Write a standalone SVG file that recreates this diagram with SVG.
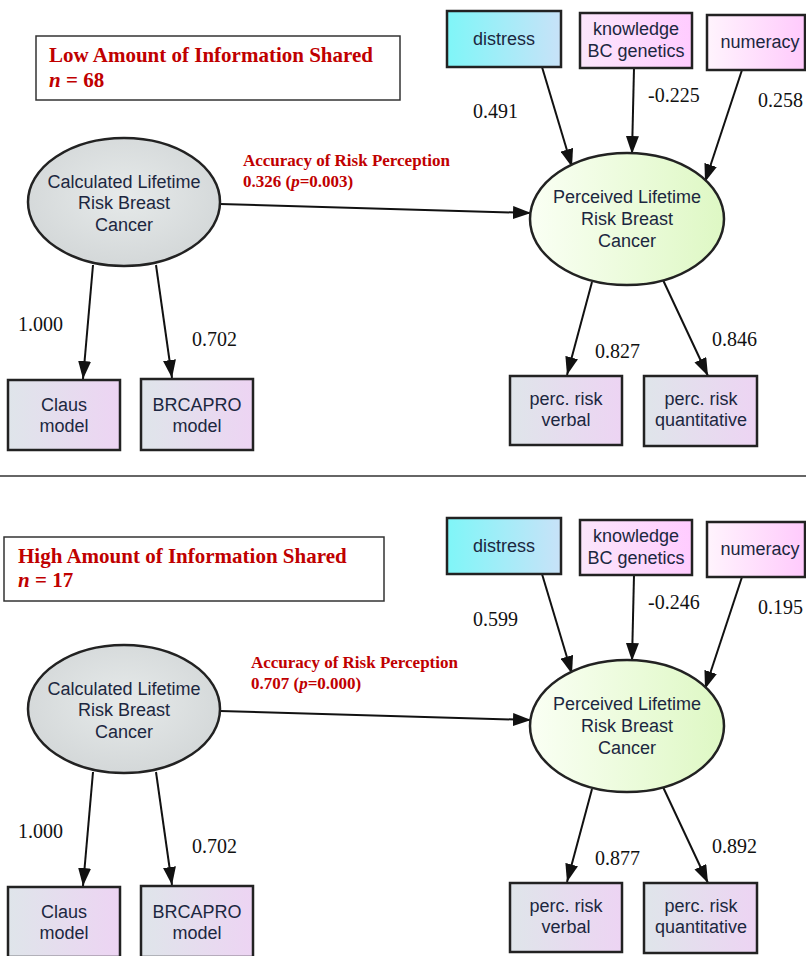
<svg xmlns="http://www.w3.org/2000/svg" width="806" height="956" viewBox="0 0 806 956">
<style>
.bg{fill:#ffffff}
.node{stroke:#222;stroke-width:2.5}
.ntext{font-family:"Liberation Sans",Arial,sans-serif;font-size:18px;fill:#1c2740;text-anchor:middle}
.coef{font-family:"Liberation Serif","Times New Roman",serif;font-size:20px;fill:#111}
.red{font-family:"Liberation Serif","Times New Roman",serif;font-weight:bold;fill:#c00000}
.title{font-size:21px}
.acc{font-size:17px}
.titlebox{fill:#fff;stroke:#333;stroke-width:1.5}
.edge{stroke:#111;stroke-width:2;fill:none;marker-end:url(#arr)}
.sep{stroke:#333;stroke-width:1.5}
</style>
<defs>
<marker id="arr" markerUnits="userSpaceOnUse" markerWidth="19" markerHeight="13" refX="18" refY="6.5" orient="auto">
<path d="M0,0 L18,6.5 L0,13 Z" fill="#111"/>
</marker>
<linearGradient id="gDis" x1="0" y1="0" x2="1" y2="0"><stop offset="0" stop-color="#7ff6f8"/><stop offset="1" stop-color="#c8e2f8"/></linearGradient>
<linearGradient id="gKno" x1="0" y1="0" x2="1" y2="0"><stop offset="0" stop-color="#fbe6fb"/><stop offset="1" stop-color="#ffccff"/></linearGradient>
<linearGradient id="gNum" x1="0" y1="0" x2="1" y2="0"><stop offset="0" stop-color="#fff4fd"/><stop offset="1" stop-color="#ffcafc"/></linearGradient>
<linearGradient id="gInd" x1="0" y1="0" x2="1" y2="0"><stop offset="0" stop-color="#dfe5ea"/><stop offset="1" stop-color="#edd4f3"/></linearGradient>
<radialGradient id="gCalc" cx="0.5" cy="0.45" r="0.6"><stop offset="0" stop-color="#e6eaea"/><stop offset="1" stop-color="#d2d6d7"/></radialGradient>
<linearGradient id="gPerc" x1="0" y1="0" x2="1" y2="0"><stop offset="0" stop-color="#fafff4"/><stop offset="1" stop-color="#def8c4"/></linearGradient>
</defs>
<rect class="bg" x="0" y="0" width="806" height="956"/>

<!-- ===== Top panel ===== -->
<g id="title-low">
<rect class="titlebox" x="36" y="36" width="364" height="64"/>
<text class="red title" x="49" y="62">Low Amount of Information Shared</text>
<text class="red title" x="49" y="87"><tspan font-style="italic">n</tspan> = 68</text>
</g>

<g id="connectors-top">
<line class="edge" x1="220" y1="204" x2="531" y2="213"/>
<line class="edge" x1="542" y1="67" x2="572" y2="167"/>
<line class="edge" x1="634" y1="68" x2="632" y2="154"/>
<line class="edge" x1="742" y1="70" x2="705" y2="182"/>
<line class="edge" x1="93" y1="265" x2="83" y2="379"/>
<line class="edge" x1="156" y1="265" x2="172" y2="378"/>
<line class="edge" x1="592" y1="282" x2="567" y2="375"/>
<line class="edge" x1="663" y1="280" x2="708" y2="376"/>
<text class="red acc" x="243" y="166">Accuracy of Risk Perception</text>
<text class="red acc" x="243" y="187">0.326 (<tspan font-style="italic">p</tspan>=0.003)</text>
<text class="coef" x="473" y="118">0.491</text>
<text class="coef" x="648" y="102">-0.225</text>
<text class="coef" x="758" y="107">0.258</text>
<text class="coef" x="18" y="331">1.000</text>
<text class="coef" x="192" y="346">0.702</text>
<text class="coef" x="595" y="358">0.827</text>
<text class="coef" x="712" y="346">0.846</text>
</g>

<g id="calc-top">
<ellipse class="node" cx="124" cy="202" rx="96" ry="64" fill="url(#gCalc)"/>
<text class="ntext" x="124" y="188">Calculated Lifetime</text>
<text class="ntext" x="124" y="209">Risk Breast</text>
<text class="ntext" x="124" y="231">Cancer</text>
</g>
<g id="perc-top">
<ellipse class="node" cx="627" cy="219" rx="97" ry="66" fill="url(#gPerc)"/>
<text class="ntext" x="627" y="203">Perceived Lifetime</text>
<text class="ntext" x="627" y="225">Risk Breast</text>
<text class="ntext" x="627" y="247">Cancer</text>
</g>
<g id="distress-top">
<rect class="node" x="447" y="11" width="114" height="56" fill="url(#gDis)"/>
<text class="ntext" x="504" y="45">distress</text>
</g>
<g id="knowledge-top">
<rect class="node" x="580" y="13" width="112" height="55" fill="url(#gKno)"/>
<text class="ntext" x="636" y="35">knowledge</text>
<text class="ntext" x="636" y="57">BC genetics</text>
</g>
<g id="numeracy-top">
<rect class="node" x="707" y="15" width="98" height="55" fill="url(#gNum)"/>
<text class="ntext" x="760" y="48">numeracy</text>
</g>
<g id="claus-top">
<rect class="node" x="8" y="380" width="112" height="70" fill="url(#gInd)"/>
<text class="ntext" x="64" y="411">Claus</text>
<text class="ntext" x="64" y="432">model</text>
</g>
<g id="brcapro-top">
<rect class="node" x="141" y="379" width="112" height="71" fill="url(#gInd)"/>
<text class="ntext" x="197" y="411">BRCAPRO</text>
<text class="ntext" x="197" y="432">model</text>
</g>
<g id="verbal-top">
<rect class="node" x="510" y="376" width="112" height="69" fill="url(#gInd)"/>
<text class="ntext" x="566" y="405">perc. risk</text>
<text class="ntext" x="566" y="426">verbal</text>
</g>
<g id="quant-top">
<rect class="node" x="644" y="376" width="113" height="70" fill="url(#gInd)"/>
<text class="ntext" x="701" y="405">perc. risk</text>
<text class="ntext" x="701" y="426">quantitative</text>
</g>

<line class="sep" x1="0" y1="476" x2="806" y2="476"/>

<!-- ===== Bottom panel ===== -->
<g id="title-high">
<rect class="titlebox" x="4" y="537" width="380" height="64"/>
<text class="red title" x="18" y="563">High Amount of Information Shared</text>
<text class="red title" x="18" y="587"><tspan font-style="italic">n</tspan> = 17</text>
</g>

<g id="connectors-bottom">
<line class="edge" x1="220" y1="711" x2="531" y2="720"/>
<line class="edge" x1="542" y1="574" x2="572" y2="674"/>
<line class="edge" x1="634" y1="575" x2="632" y2="661"/>
<line class="edge" x1="742" y1="577" x2="705" y2="689"/>
<line class="edge" x1="93" y1="772" x2="83" y2="886"/>
<line class="edge" x1="156" y1="772" x2="172" y2="885"/>
<line class="edge" x1="592" y1="789" x2="567" y2="882"/>
<line class="edge" x1="663" y1="787" x2="708" y2="883"/>
<text class="red acc" x="251" y="668">Accuracy of Risk Perception</text>
<text class="red acc" x="251" y="689">0.707 (<tspan font-style="italic">p</tspan>=0.000)</text>
<text class="coef" x="473" y="626">0.599</text>
<text class="coef" x="648" y="609">-0.246</text>
<text class="coef" x="758" y="614">0.195</text>
<text class="coef" x="18" y="838">1.000</text>
<text class="coef" x="192" y="853">0.702</text>
<text class="coef" x="595" y="865">0.877</text>
<text class="coef" x="712" y="853">0.892</text>
</g>

<g id="calc-bottom">
<ellipse class="node" cx="124" cy="709" rx="96" ry="64" fill="url(#gCalc)"/>
<text class="ntext" x="124" y="695">Calculated Lifetime</text>
<text class="ntext" x="124" y="716">Risk Breast</text>
<text class="ntext" x="124" y="738">Cancer</text>
</g>
<g id="perc-bottom">
<ellipse class="node" cx="627" cy="726" rx="97" ry="66" fill="url(#gPerc)"/>
<text class="ntext" x="627" y="710">Perceived Lifetime</text>
<text class="ntext" x="627" y="732">Risk Breast</text>
<text class="ntext" x="627" y="754">Cancer</text>
</g>
<g id="distress-bottom">
<rect class="node" x="447" y="518" width="114" height="56" fill="url(#gDis)"/>
<text class="ntext" x="504" y="552">distress</text>
</g>
<g id="knowledge-bottom">
<rect class="node" x="580" y="520" width="112" height="55" fill="url(#gKno)"/>
<text class="ntext" x="636" y="542">knowledge</text>
<text class="ntext" x="636" y="564">BC genetics</text>
</g>
<g id="numeracy-bottom">
<rect class="node" x="707" y="522" width="98" height="55" fill="url(#gNum)"/>
<text class="ntext" x="760" y="555">numeracy</text>
</g>
<g id="claus-bottom">
<rect class="node" x="8" y="887" width="112" height="70" fill="url(#gInd)"/>
<text class="ntext" x="64" y="918">Claus</text>
<text class="ntext" x="64" y="939">model</text>
</g>
<g id="brcapro-bottom">
<rect class="node" x="141" y="886" width="112" height="71" fill="url(#gInd)"/>
<text class="ntext" x="197" y="918">BRCAPRO</text>
<text class="ntext" x="197" y="939">model</text>
</g>
<g id="verbal-bottom">
<rect class="node" x="510" y="883" width="112" height="69" fill="url(#gInd)"/>
<text class="ntext" x="566" y="912">perc. risk</text>
<text class="ntext" x="566" y="933">verbal</text>
</g>
<g id="quant-bottom">
<rect class="node" x="644" y="883" width="113" height="70" fill="url(#gInd)"/>
<text class="ntext" x="701" y="912">perc. risk</text>
<text class="ntext" x="701" y="933">quantitative</text>
</g>
</svg>
